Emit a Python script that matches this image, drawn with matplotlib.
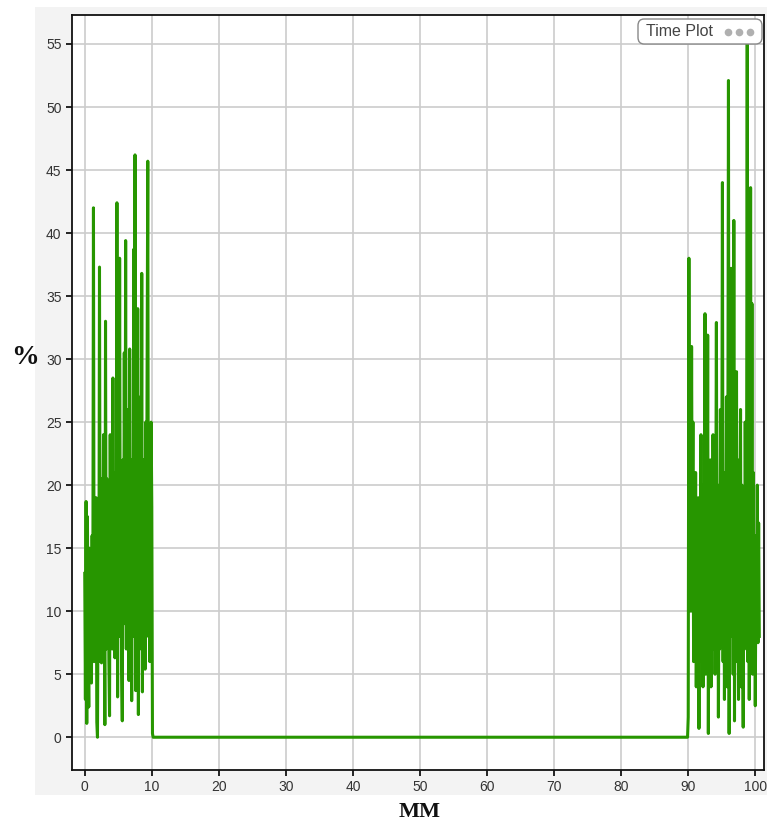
import numpy as np
import matplotlib
matplotlib.use('Agg')
import matplotlib.pyplot as plt
from matplotlib.patches import Rectangle, FancyBboxPatch
from matplotlib.lines import Line2D

# readings 0..10 MM, step 0.1
x_left = np.round(np.arange(0, 10.01, 0.1), 1)
y_left = [13, 3, 18.7, 1.1, 17.5, 8, 2.4, 15, 6, 12,
          4.3, 16, 8, 42, 6, 14, 9, 19, 1.2, 0.0,
          13, 6, 37.3, 9, 20.5, 5.9, 16, 8, 24, 12,
          1.0, 33, 7, 20.5, 10, 15, 6, 1.7, 24, 11,
          18, 7, 28.5, 9, 16, 6.3, 21, 10, 42.4, 3.2,
          25, 8, 38, 12, 19, 5.4, 1.3, 22, 9, 30.5,
          11, 39.4, 7, 26, 14, 20, 4.5, 30.8, 10, 22,
          2.9, 18, 8, 38.7, 12, 46.2, 3.7, 24, 9, 34,
          1.8, 20, 7, 27, 11, 36.8, 3.6, 22, 9, 18,
          5.4, 25, 12, 30, 45.7, 8, 20, 6, 14, 25,
          18.3]

# flat part
x_mid = [10.1, 10.2, 89.9]
y_mid = [0.3, 0.0, 0.0]

# readings 90..100.6 MM, step 0.1
x_right = np.round(np.arange(90, 100.65, 0.1), 1)
y_right = [1.6, 38, 12, 18, 10, 31, 14, 25, 6, 16,
           9, 21, 4, 14, 11, 19, 0.7, 17, 8, 24,
           6, 13, 4, 20, 10, 33.6, 5, 18, 8, 31.9,
           0.3, 15, 9, 22, 4, 17, 7, 24, 11, 19,
           5, 16, 32.9, 9, 20, 1.6, 14, 7, 26, 10,
           18, 44, 6, 21, 3, 15, 9, 27, 4, 19,
           52.1, 0.3, 20, 8, 37.2, 12, 24, 5, 41, 1.3,
           18, 10, 29, 6, 22, 3, 16, 11, 26, 4,
           20, 9, 0.8, 17, 7, 25, 12, 19, 55.2, 6,
           27, 3, 18, 43.6, 8, 34.4, 5, 21, 10, 16,
           2.5, 14, 8, 20, 7.5, 17, 8]

x = np.concatenate([x_left, x_mid, x_right])
y = np.concatenate([y_left, y_mid, y_right])

plt.rcParams['font.family'] = ['Liberation Sans', 'DejaVu Sans']

fig = plt.figure(figsize=(7.67, 8.25), dpi=100)
W, H = 767, 825
fig.patches.append(Rectangle((35/W, 1-795/H), 732/W, 788/H,
                             transform=fig.transFigure, facecolor='#f3f3f3',
                             edgecolor='none', zorder=-10))

ax = fig.add_axes([72/W, 1-770/H, 692/W, 755/H])
ax.set_facecolor('white')
ax.plot(x, y, color='#279600', lw=2.2, zorder=3)

ax.set_xlim(-1.9, 101.3)
ax.set_ylim(-2.6, 57.3)
ax.set_xticks(np.arange(0, 101, 10))
ax.set_yticks(np.arange(0, 56, 5))
ax.grid(True, color='#cccccc', lw=1.2)
ax.tick_params(labelsize=10, labelcolor='#333333', length=4, width=1.2, color='black')
for s in ax.spines.values():
    s.set_linewidth(1.3)
    s.set_color('#111111')

fig.text(25/W, 1-357/H, '%', fontsize=20, fontweight='bold',
         family='Liberation Serif', ha='center', va='center', color='#111111')
fig.text(420/W, 1-812/H, 'MM', fontsize=16, fontweight='bold',
         family='Liberation Serif', ha='center', va='center', color='#111111')

# badge in the top right corner
badge = FancyBboxPatch((638/W, 1-44/H), 124/W, 25/H,
                       boxstyle='round,pad=0,rounding_size=0.008',
                       transform=fig.transFigure, fc='white', ec='#888888',
                       lw=1, zorder=5)
fig.patches.append(badge)
fig.text(646/W, 1-31/H, 'Time Plot', fontsize=11.5, color='#444444',
         ha='left', va='center', zorder=6)
fig.add_artist(Line2D([728/W, 739/W, 750/W], [1-32/H] * 3,
                      transform=fig.transFigure, ls='none', marker='o',
                      ms=5.5, mfc='#b0b0b0', mec='none', zorder=6))

plt.savefig('out.png', dpi=100)
